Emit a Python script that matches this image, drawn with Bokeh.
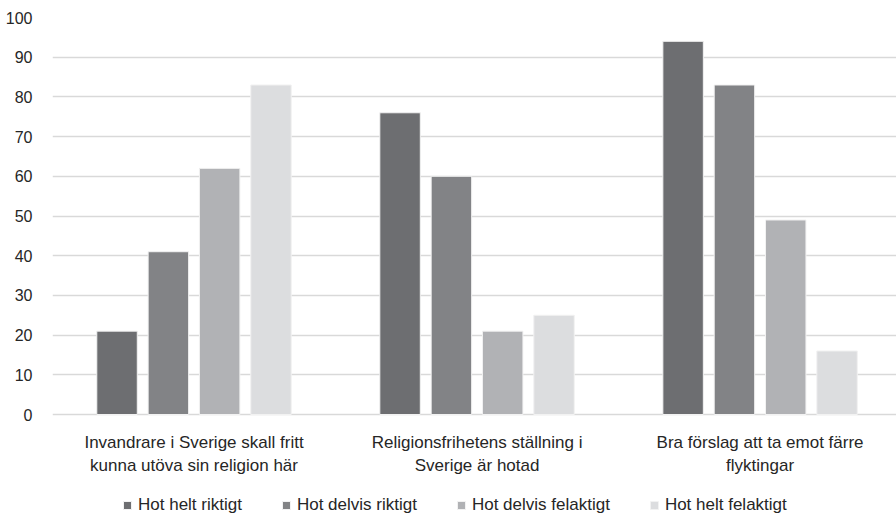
from bokeh.plotting import figure
from bokeh.models import ColumnDataSource, Legend, LegendItem, Range1d, FixedTicker
from bokeh.core.properties import value
from bokeh.embed import file_html
from bokeh.resources import INLINE

categories = ["Invandrare i Sverige skall fritt\nkunna utöva sin religion här",
              "Religionsfrihetens ställning i\nSverige är hotad",
              "Bra förslag att ta emot färre\nflyktingar"]
series_names = ["Hot helt riktigt", "Hot delvis riktigt", "Hot delvis felaktigt", "Hot helt felaktigt"]
hot_helt_riktigt = [21, 76, 94]
hot_delvis_riktigt = [41, 60, 83]
hot_delvis_felaktigt = [62, 21, 49]
hot_helt_felaktigt = [83, 25, 16]
y_ticks = [0, 10, 20, 30, 40, 50, 60, 70, 80, 90, 100]
colors = ["#6d6e71", "#828386", "#b1b2b5", "#dcdddf"]

series = [hot_helt_riktigt, hot_delvis_riktigt, hot_delvis_felaktigt, hot_helt_felaktigt]
centers = [i + 0.5 for i in range(len(categories))]

# frame extends below 0 so the category labels and legend live inside it
p = figure(x_range=Range1d(0, 2.982), y_range=Range1d(-25.44, 100),
           frame_width=844, frame_height=498, output_backend="svg", toolbar_location=None,
           min_border_left=52, min_border_right=0, min_border_top=17, min_border_bottom=0)

offsets = [-0.272, -0.0906, 0.0906, 0.272]
items = []
for vals, off, c, name in zip(series, offsets, colors, series_names):
    src = ColumnDataSource(dict(x=[cx + off for cx in centers], top=vals))
    r = p.vbar(x="x", top="top", bottom=0, width=0.143, source=src,
               fill_color=c, line_color="#f2f2f2", line_width=1)
    items.append(LegendItem(label=name, renderers=[r]))

# category labels (two lines each)
line1 = [c.split("\n")[0] for c in categories]
line2 = [c.split("\n")[1] for c in categories]
for lines, yy in ((line1, -7.05), (line2, -12.72)):
    p.text(x=centers, y=[yy] * len(centers), text=lines,
           text_font=value("Liberation Sans"), text_font_size="17px",
           text_align="center", text_baseline="middle", text_color="#262626")

p.outline_line_color = None
p.xgrid.grid_line_color = None
p.ygrid.grid_line_color = "#d9d9d9"
p.ygrid.grid_line_width = 1.5
p.yaxis.ticker = FixedTicker(ticks=y_ticks)
p.xaxis.visible = False
yax = p.yaxis[0]
yax.axis_line_color = None
yax.major_tick_line_color = None
yax.minor_tick_line_color = None
yax.major_label_text_font = "Liberation Sans"
yax.major_label_text_color = "#262626"
yax.major_label_text_font_size = "16px"
yax.major_label_standoff = 14

legend = Legend(items=items, orientation="horizontal", location=(70, 0),
                label_text_font="Liberation Sans", label_text_font_size="17px",
                label_text_color="#262626", glyph_width=10, glyph_height=10,
                spacing=39, label_standoff=6, border_line_color=None,
                background_fill_alpha=0, padding=0, margin=0)
p.add_layout(legend)

open("out.html", "w").write(file_html(p, INLINE))
